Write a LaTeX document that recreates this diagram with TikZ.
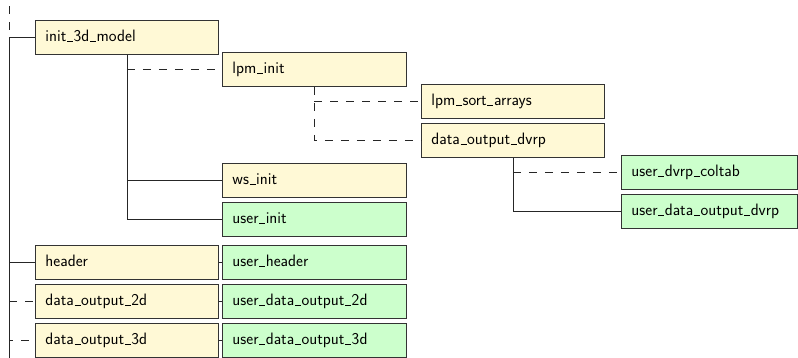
\documentclass[tikz,border=0pt]{standalone}
\definecolor{ylw}{HTML}{FFF9D6}
\definecolor{grn}{HTML}{CCFFCC}
\newcommand\us{\kern0.04em\rule[-0.06ex]{0.36em}{0.55pt}\kern0.04em}
\begin{document}
\begin{tikzpicture}[x=1pt,y=-1pt,
  bx/.style={draw=black!80, line width=0.9pt, anchor=north west, minimum height=34pt,
    inner xsep=10pt, inner ysep=0pt, text width=#1, align=left,
    text height=11pt, text depth=3pt,
    font=\sffamily\fontsize{16.5}{19}\selectfont},
  ybox/.style={bx=#1, fill=ylw},
  gbox/.style={bx=#1, fill=grn},
  ln/.style={draw=black!85, line width=0.8pt},
  dsh/.style={ln, dash pattern=on 8pt off 8pt},
]
\clip (0,0) rectangle (798,357);
% nodes
\node[ybox=163pt] (init) at (35,20) {init\us 3d\us model};
\node[ybox=164pt] (lpm) at (222,52) {lpm\us init};
\node[ybox=163pt] (sort) at (421,84) {lpm\us sort\us arrays};
\node[ybox=163pt] (dodvrp) at (421,123) {data\us output\us dvrp};
\node[gbox=156pt] (coltab) at (621,155) {user\us dvrp\us coltab};
\node[gbox=156pt] (udodvrp) at (621,194) {user\us data\us output\us dvrp};
\node[ybox=164pt] (wsinit) at (222,163) {ws\us init};
\node[gbox=164pt] (userinit) at (222,202) {user\us init};
\node[ybox=163pt] (header) at (35,245) {header};
\node[gbox=164pt] (uheader) at (222,245) {user\us header};
\node[ybox=163pt] (dotwo) at (35,284) {data\us output\us 2d};
\node[gbox=164pt] (udotwo) at (222,284) {user\us data\us output\us 2d};
\node[ybox=163pt] (dothree) at (35,323) {data\us output\us 3d};
\node[gbox=164pt] (udothree) at (222,323) {user\us data\us output\us 3d};
% root line
\coordinate (rtop) at (9,6);
\coordinate (rbot) at (9,360);
\draw[dsh] (rtop) -- (rtop |- init.west);
\draw[ln] (rtop |- init.west) -- (rbot);
\draw[ln] (rtop |- init.west) -- (init.west);
\draw[ln] (rtop |- header.west) -- (header.west);
\draw[dsh] (rtop |- dotwo.west) -- (dotwo.west);
\draw[dsh, dash phase=4pt] (rtop |- dothree.west) -- (dothree.west);
% init children
\draw[ln] (init.south) |- (userinit.west);
\draw[ln] (init.south |- wsinit.west) -- (wsinit.west);
\draw[dsh] (init.south |- lpm.west) -- (lpm.west);
% lpm children
\draw[dsh] (lpm.south) |- (dodvrp.west);
\draw[dsh] (lpm.south |- sort.west) -- (sort.west);
% dvrp children
\draw[ln] (dodvrp.south) |- (udodvrp.west);
\draw[dsh] (dodvrp.south |- coltab.west) -- (coltab.west);
% row links
\draw[ln] (header.east) -- (uheader.west);
\draw[ln] (dotwo.east) -- (udotwo.west);
\draw[ln] (dothree.east) -- (udothree.west);
\end{tikzpicture}
\end{document}
